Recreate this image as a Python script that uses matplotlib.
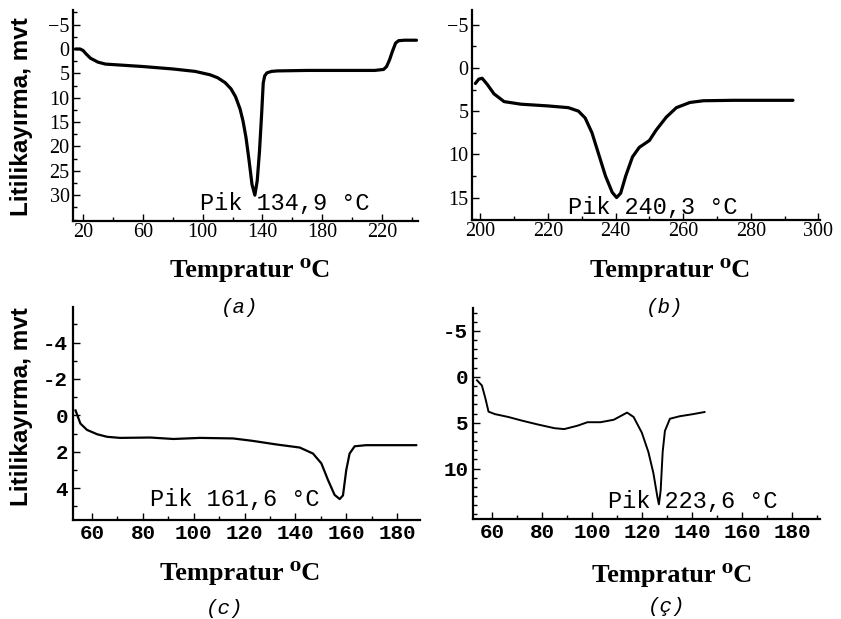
import numpy as np
import matplotlib
matplotlib.use("Agg")
from matplotlib import pyplot as plt
from matplotlib.ticker import FixedLocator, MultipleLocator

# ---------------------------------------------------------------- data
# (a)
temp_a = [15, 18, 20, 22, 25, 30, 35, 45, 60, 80, 95, 105, 110, 115, 119, 122, 125, 127,
          129, 131, 133, 134.9, 136.5, 138, 139.5, 140.5, 141.5, 143, 146, 150,
          170, 200, 215, 221, 223, 225, 227, 229, 231, 235, 243]
flux_a = [0, 0, 0.3, 1.0, 1.9, 2.7, 3.1, 3.3, 3.6, 4.1, 4.6, 5.3, 5.9, 6.9, 8.2, 9.8, 12.3, 14.8,
          18.2, 22.8, 27.8, 30, 27, 21, 13, 7, 5.5, 4.9, 4.6, 4.5,
          4.4, 4.4, 4.4, 4.2, 3.6, 2.2, 0.4, -1.2, -1.7, -1.8, -1.8]
# (b)
temp_b = [198.5, 199.5, 200.5, 202, 204, 207, 212, 220, 226, 229, 231, 233, 235, 237,
          239, 240.3, 241.5, 243, 245, 247, 250, 252, 255, 258, 262, 266, 275, 292.5]
flux_b = [1.8, 1.3, 1.2, 1.9, 3.0, 3.9, 4.2, 4.4, 4.6, 5.0, 5.8, 7.5, 10.0, 12.5,
          14.4, 15, 14.5, 12.5, 10.3, 9.2, 8.4, 7.2, 5.7, 4.6, 4.0, 3.8, 3.75, 3.75]
# (c)
temp_c = [53.5, 55.4, 58, 62, 65.9, 71, 82.9, 92, 102.5, 115.5, 123, 132.5, 141.7,
          146.9, 150.2, 152.8, 155.4, 157.4, 158.7, 160, 161.3, 163.3, 167.8, 187.5]
flux_c = [-0.27, 0.45, 0.8, 1.04, 1.18, 1.24, 1.22, 1.3, 1.24, 1.27, 1.4, 1.6, 1.77,
          2.1, 2.64, 3.55, 4.37, 4.6, 4.4, 3.0, 2.1, 1.7, 1.64, 1.64]
# (ç)
temp_d = [54.1, 56.05, 57.4, 58.7, 61.3, 66.6, 71.8, 78.4, 85, 88.9, 94.2, 98.2,
          103.4, 108.7, 114, 116.6, 119.9, 122.5, 124.5, 126.1, 126.7, 127.4, 128.2,
          129.1, 131.1, 135, 140.3, 144.9]
flux_d = [0.38, 0.95, 2.3, 3.8, 4.07, 4.38, 4.76, 5.2, 5.6, 5.7, 5.33, 4.95,
          4.95, 4.68, 3.9, 4.38, 6.1, 8.2, 10.5, 13.1, 13.9, 12.4, 8.2,
          5.9, 4.57, 4.3, 4.07, 3.84]

xticks_a = [20, 60, 100, 140, 180, 220]
yticks_a = [-5, 0, 5, 10, 15, 20, 25, 30]
xticks_b = [200, 220, 240, 260, 280, 300]
yticks_b = [-5, 0, 5, 10, 15]
xticks_c = [60, 80, 100, 120, 140, 160, 180]
yticks_c = [-4, -2, 0, 2, 4]
xticks_d = [60, 80, 100, 120, 140, 160, 180]
yticks_d = [-5, 0, 5, 10]

peaks = ['Pik 134,9 °C', 'Pik 240,3 °C', 'Pik 161,6 °C', 'Pik 223,6 °C']
panels = ['(a)', '(b)', '(c)', '(ç)']

# ---------------------------------------------------------------- figure
W, H = 841, 619
fig = plt.figure(figsize=(W / 100, H / 100), dpi=100)


def box(l, t, r, b):
    return [l / W, 1 - b / H, (r - l) / W, (b - t) / H]


def fx(x, y):
    return x / W, 1 - y / H


def style(ax):
    for s in ['top', 'right']:
        ax.spines[s].set_visible(False)
    for s in ['left', 'bottom']:
        ax.spines[s].set_linewidth(1.6)
        ax.spines[s].set_color('black')
    ax.tick_params(which='both', direction='in', color='black', width=1.0)
    ax.tick_params(which='major', length=5)
    ax.tick_params(which='minor', length=3)
    ax.set_facecolor('white')


serif = {'family': 'Liberation Serif', 'size': 14.5}
mono_b = {'family': 'Liberation Mono', 'size': 15, 'weight': 'bold'}

ax_a = fig.add_axes(box(73, 10, 418, 221))
ax_b = fig.add_axes(box(472, 10, 820, 220))
ax_c = fig.add_axes(box(73, 307, 420, 520))
ax_d = fig.add_axes(box(473, 308, 820, 519))

ax_a.plot(temp_a, flux_a, color='black', lw=2.3, solid_capstyle='round')
ax_a.set_xlim(13.3, 244)
ax_a.set_ylim(35.3, -8)
ax_a.xaxis.set_major_locator(FixedLocator(xticks_a))
ax_a.xaxis.set_minor_locator(MultipleLocator(20))
ax_a.yaxis.set_major_locator(FixedLocator(yticks_a))
ax_a.yaxis.set_minor_locator(MultipleLocator(2.5))
ax_a.set_yticklabels(['−5' if v < 0 else str(v) for v in yticks_a], fontdict=serif)
ax_a.set_xticklabels([str(v) for v in xticks_a], fontdict=serif)

ax_b.plot(temp_b, flux_b, color='black', lw=2.3, solid_capstyle='round')
ax_b.set_xlim(197.5, 300.5)
ax_b.set_ylim(17.6, -6.7)
ax_b.xaxis.set_major_locator(FixedLocator(xticks_b))
ax_b.xaxis.set_minor_locator(MultipleLocator(10))
ax_b.yaxis.set_major_locator(FixedLocator(yticks_b))
ax_b.yaxis.set_minor_locator(MultipleLocator(2.5))
ax_b.set_yticklabels(['−5' if v < 0 else str(v) for v in yticks_b], fontdict=serif)
ax_b.set_xticklabels([str(v) for v in xticks_b], fontdict=serif)

ax_c.plot(temp_c, flux_c, color='black', lw=1.6)
ax_c.set_xlim(52.5, 189)
ax_c.set_ylim(5.75, -5.95)
ax_c.xaxis.set_major_locator(FixedLocator(xticks_c))
ax_c.xaxis.set_minor_locator(MultipleLocator(10))
ax_c.yaxis.set_major_locator(FixedLocator(yticks_c))
ax_c.yaxis.set_minor_locator(MultipleLocator(1))
ax_c.set_yticklabels([str(v) for v in yticks_c], fontdict=mono_b)
ax_c.set_xticklabels([str(v) for v in xticks_c], fontdict=mono_b)

ax_d.plot(temp_d, flux_d, color='black', lw=1.4)
ax_d.set_xlim(52.5, 191)
ax_d.set_ylim(15.5, -7.5)
ax_d.xaxis.set_major_locator(FixedLocator(xticks_d))
ax_d.xaxis.set_minor_locator(MultipleLocator(10))
ax_d.yaxis.set_major_locator(FixedLocator(yticks_d))
ax_d.yaxis.set_minor_locator(MultipleLocator(1))
ax_d.set_yticklabels([str(v) for v in yticks_d], fontdict=mono_b)
ax_d.set_xticklabels([str(v) for v in xticks_d], fontdict=mono_b)

for ax in [ax_a, ax_b, ax_c, ax_d]:
    style(ax)
ax_a.tick_params(axis='x', pad=1.5)
ax_b.tick_params(axis='x', pad=1.5)
ax_a.tick_params(axis='y', pad=2.5)
ax_b.tick_params(axis='y', pad=2.5)
ax_c.tick_params(axis='x', pad=3)
ax_d.tick_params(axis='x', pad=3)

# ---------------------------------------------------------------- texts
peak_pos = [(200, 204), (568, 207), (150, 500), (608, 501)]
xlab_pos = [(250, 270), (670, 270), (240, 573), (672, 575)]
panel_pos = [(240, 307), (665, 307), (225, 608), (667, 607)]

for (px_, py_), s in zip(peak_pos, peaks):
    fig.text(*fx(px_, py_), s, family='Liberation Mono', size=17,
             ha='left', va='center')
for (px_, py_) in xlab_pos:
    fig.text(*fx(px_, py_), 'Tempratur ⁰C', family=['Liberation Serif', 'DejaVu Serif'],
             weight='bold', size=19, ha='center', va='center')
for (px_, py_), s in zip(panel_pos, panels):
    fig.text(*fx(px_, py_), s, family='Liberation Mono', style='italic', size=15,
             ha='center', va='center')

for yc in [117, 407]:
    fig.text(*fx(22, yc), 'Litilikayırma, mvt', family='Liberation Sans', size=17.5,
             weight='bold', rotation=90, ha='center', va='center')

fig.savefig('out.png', dpi=100, facecolor='white')
plt.close(fig)
